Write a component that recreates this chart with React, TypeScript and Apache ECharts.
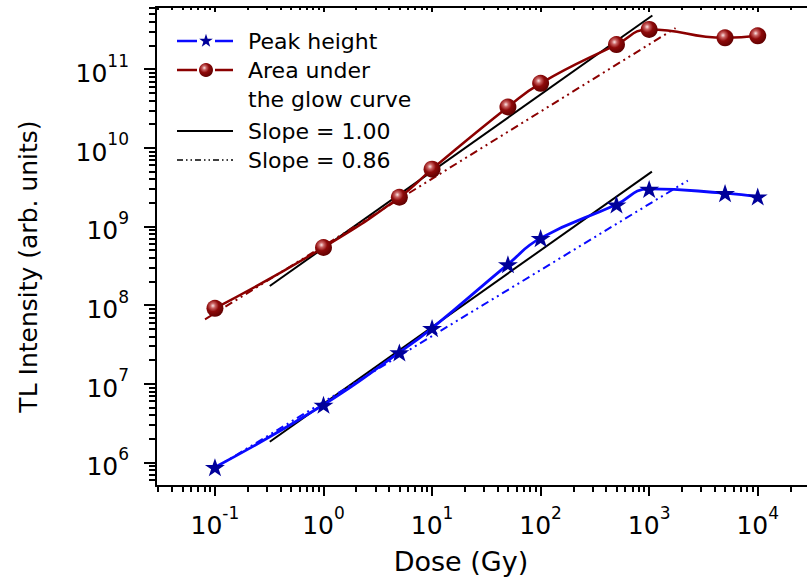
import React, { useEffect, useRef } from "react";
import * as echarts from "echarts";

// ---- data ----
const doses = [0.1, 1, 5, 10, 50, 100, 500, 1000, 5000, 10000];
const peakHeight = [8.7e5, 5.4e6, 2.5e7, 5.1e7, 3.3e8, 7.1e8, 1.9e9, 3.0e9, 2.65e9, 2.4e9];
const areaUnderCurve = [9.1e7, 5.4e8, 2.35e9, 5.35e9, 3.3e10, 6.6e10, 2.05e11, 3.2e11, 2.5e11, 2.65e11];

const slopeOneAreaDose = [0.32, 1070];
const slopeOneAreaValue = [1.75e8, 4.8e11];
const slopeOnePeakDose = [0.32, 1060];
const slopeOnePeakValue = [1.83e6, 4.98e9];
const slopeFitAreaDose = [0.081, 1750];
const slopeFitAreaValue = [6.6e7, 3.33e11];
const slopeFitPeakDose = [0.1, 2270];
const slopeFitPeakValue = [8.5e5, 3.83e9];

const xDecades = [-1, 0, 1, 2, 3, 4];
const yDecades = [6, 7, 8, 9, 10, 11];
const legendLabels = ["Peak height", "Area under\nthe glow curve", "Slope = 1.00", "Slope = 0.86"];
const xTitle = "Dose (Gy)";
const yTitle = "TL Intensity (arb. units)";

// ---- helpers ----
const X_MIN = -1.543;
const X_MAX = 4.5;
const Y_MIN = 5.7;
const Y_MAX = 11.79;
const FONT = '"DejaVu Sans", sans-serif';
const lg = (v: number) => Math.log10(v);

function minorTicks(lo: number, hi: number) {
  const out: number[] = [];
  for (let n = Math.floor(lo) - 1; n <= Math.ceil(hi); n++) {
    for (let k = 2; k <= 9; k++) {
      const v = n + Math.log10(k);
      if (v > lo && v < hi) out.push(v);
    }
  }
  return out;
}

const starPts: [number, number][] = [
  [0, -10], [2.245, -3.09], [9.511, -3.09], [3.633, 1.18], [5.878, 8.09],
  [0, 3.82], [-5.878, 8.09], [-3.633, 1.18], [-9.511, -3.09], [-2.245, -3.09],
];
const STAR = "path://M" + starPts.map((p) => p[0] + "," + p[1]).join(" L") + " Z";

function sphereGradient() {
  return new echarts.graphic.RadialGradient(0.38, 0.35, 0.68, [
    { offset: 0, color: "#fbe6e6" },
    { offset: 0.22, color: "#c86060" },
    { offset: 0.5, color: "#8e0a0a" },
    { offset: 1, color: "#5e0000" },
  ]);
}

const pairs = (xs: number[], ys: number[]) => xs.map((x, i) => [lg(x), lg(ys[i])]);

const BLUE = "#0a0aff";
const NAVY = "#00009a";
const DARKRED = "#8b0000";
const DASHDOT = [8, 4, 2, 4, 2, 4];

export default function App() {
  const ref = useRef<HTMLDivElement>(null);

  useEffect(() => {
    if (!ref.current) return;
    const chart = echarts.init(ref.current, undefined, { renderer: "svg" });

    const black = { color: "#000", width: 2 };
    const labelRich = {
      b: { fontSize: 25, fontFamily: FONT, color: "#000", lineHeight: 34, verticalAlign: "bottom" },
      s: { fontSize: 17, fontFamily: FONT, color: "#000", lineHeight: 14, verticalAlign: "top" },
    };
    const fmt = (v: number) => `{b|10}{s|${Math.round(v)}}`;
    const xMinor = minorTicks(X_MIN, X_MAX);
    const yMinor = minorTicks(Y_MIN, Y_MAX);

    const xBase = { type: "value", min: X_MIN, max: X_MAX, splitLine: { show: false } };
    const yBase = { type: "value", min: Y_MIN, max: Y_MAX, splitLine: { show: false } };

    // legend drawn as graphic
    const lx1 = 177, lx2 = 233, lmid = 206;
    const rows = [41, 70, 131, 160];
    const legendStar = starPts.map((p) => [lmid + p[0] * 0.72, rows[0] + p[1] * 0.72]);
    const textStyle = (t: string) => ({ text: t, fill: "#000", font: `22px ${FONT}`, verticalAlign: "middle", align: "left" });

    const graphic: any[] = [
      { type: "line", shape: { x1: lx1, y1: rows[0], x2: lmid - 9, y2: rows[0] }, style: { stroke: BLUE, lineWidth: 2.5 } },
      { type: "line", shape: { x1: lmid + 9, y1: rows[0], x2: lx2, y2: rows[0] }, style: { stroke: BLUE, lineWidth: 2.5 } },
      { type: "polygon", shape: { points: legendStar }, style: { fill: NAVY } },
      { type: "text", x: 248, y: rows[0], style: textStyle(legendLabels[0]) },
      { type: "line", shape: { x1: lx1, y1: rows[1], x2: lmid - 9, y2: rows[1] }, style: { stroke: DARKRED, lineWidth: 2.5 } },
      { type: "line", shape: { x1: lmid + 9, y1: rows[1], x2: lx2, y2: rows[1] }, style: { stroke: DARKRED, lineWidth: 2.5 } },
      { type: "circle", shape: { cx: lmid, cy: rows[1], r: 7 }, style: { fill: sphereGradient() } },
      { type: "text", x: 248, y: rows[1] + 14.5, style: { ...textStyle(legendLabels[1]), lineHeight: 29 } },
      { type: "line", shape: { x1: lx1, y1: rows[2], x2: lx2, y2: rows[2] }, style: { stroke: "#000", lineWidth: 1.8 } },
      { type: "text", x: 248, y: rows[2], style: textStyle(legendLabels[2]) },
      { type: "line", shape: { x1: lx1, y1: rows[3], x2: lx2, y2: rows[3] }, style: { stroke: "#000", lineWidth: 1.5, lineDash: [6, 3, 1.5, 3, 1.5, 3] } },
      { type: "text", x: 248, y: rows[3], style: textStyle(legendLabels[3]) },
    ];

    chart.setOption({
      animation: false,
      backgroundColor: "#fff",
      textStyle: { fontFamily: FONT },
      grid: { left: 156, top: 7, right: -5, bottom: 97, containLabel: false, outerBoundsMode: "none" },
      xAxis: [
        {
          ...xBase,
          position: "bottom",
          axisLine: { show: true, onZero: false, lineStyle: black },
          axisTick: { show: true, inside: false, length: 10, customValues: xDecades, lineStyle: black },
          axisLabel: { show: true, customValues: xDecades, formatter: fmt, rich: labelRich, margin: 18 },
          name: xTitle,
          nameLocation: "middle",
          nameGap: 62,
          nameTextStyle: { fontSize: 27, fontFamily: FONT, color: "#000", padding: [0, 46, 0, 0] },
        },
        {
          ...xBase,
          position: "bottom",
          axisLine: { show: false, onZero: false },
          axisTick: { show: true, inside: false, length: 6, customValues: xMinor, lineStyle: black },
          axisLabel: { show: false },
        },
        {
          ...xBase,
          position: "top",
          axisLine: { show: true, onZero: false, lineStyle: black },
          axisTick: { show: true, inside: true, length: 5, customValues: xDecades, lineStyle: black },
          axisLabel: { show: false },
        },
        {
          ...xBase,
          position: "top",
          axisLine: { show: false, onZero: false },
          axisTick: { show: true, inside: true, length: 3, customValues: xMinor, lineStyle: black },
          axisLabel: { show: false },
        },
      ],
      yAxis: [
        {
          ...yBase,
          position: "left",
          axisLine: { show: true, onZero: false, lineStyle: black },
          axisTick: { show: true, inside: false, length: 12, customValues: yDecades, lineStyle: black },
          axisLabel: { show: true, customValues: yDecades, formatter: fmt, rich: labelRich, margin: 27 },
          name: yTitle,
          nameLocation: "middle",
          nameGap: 115,
          nameTextStyle: { fontSize: 25, fontFamily: FONT, color: "#000", padding: [0, 40, 0, 0] },
        },
        {
          ...yBase,
          position: "left",
          axisLine: { show: false, onZero: false },
          axisTick: { show: true, inside: false, length: 7, customValues: yMinor, lineStyle: black },
          axisLabel: { show: false },
        },
      ],
      graphic,
      series: [
        {
          name: "Slope = 1.00 (area)", type: "line", xAxisIndex: 0, yAxisIndex: 0, symbol: "none",
          data: pairs(slopeOneAreaDose, slopeOneAreaValue), lineStyle: { color: "#000", width: 2 }, z: 2,
        },
        {
          name: "Slope = 1.00 (peak)", type: "line", xAxisIndex: 0, yAxisIndex: 0, symbol: "none",
          data: pairs(slopeOnePeakDose, slopeOnePeakValue), lineStyle: { color: "#000", width: 2 }, z: 2,
        },
        {
          name: "Slope = 0.86 (area)", type: "line", xAxisIndex: 0, yAxisIndex: 0, symbol: "none",
          data: pairs(slopeFitAreaDose, slopeFitAreaValue), lineStyle: { color: DARKRED, width: 2, type: DASHDOT }, z: 2,
        },
        {
          name: "Slope = 0.86 (peak)", type: "line", xAxisIndex: 0, yAxisIndex: 0, symbol: "none",
          data: pairs(slopeFitPeakDose, slopeFitPeakValue), lineStyle: { color: BLUE, width: 2, type: DASHDOT }, z: 2,
        },
        {
          name: "Peak height", type: "line", xAxisIndex: 0, yAxisIndex: 0, smooth: 0.5,
          data: pairs(doses, peakHeight),
          lineStyle: { color: BLUE, width: 2.8 },
          symbol: STAR, symbolSize: [20, 19], symbolKeepAspect: true,
          itemStyle: { color: NAVY, borderWidth: 0 }, z: 3,
        },
        {
          name: "Area under the glow curve", type: "line", xAxisIndex: 0, yAxisIndex: 0, smooth: 0.5,
          data: pairs(doses, areaUnderCurve),
          lineStyle: { color: DARKRED, width: 2.5 },
          symbol: "circle", symbolSize: 17,
          itemStyle: { color: sphereGradient(), borderWidth: 0 }, z: 3,
        },
      ],
    });

    return () => chart.dispose();
  }, []);

  return <div ref={ref} style={{ position: "absolute", left: 0, top: 0, width: 807, height: 583 }} />;
}
